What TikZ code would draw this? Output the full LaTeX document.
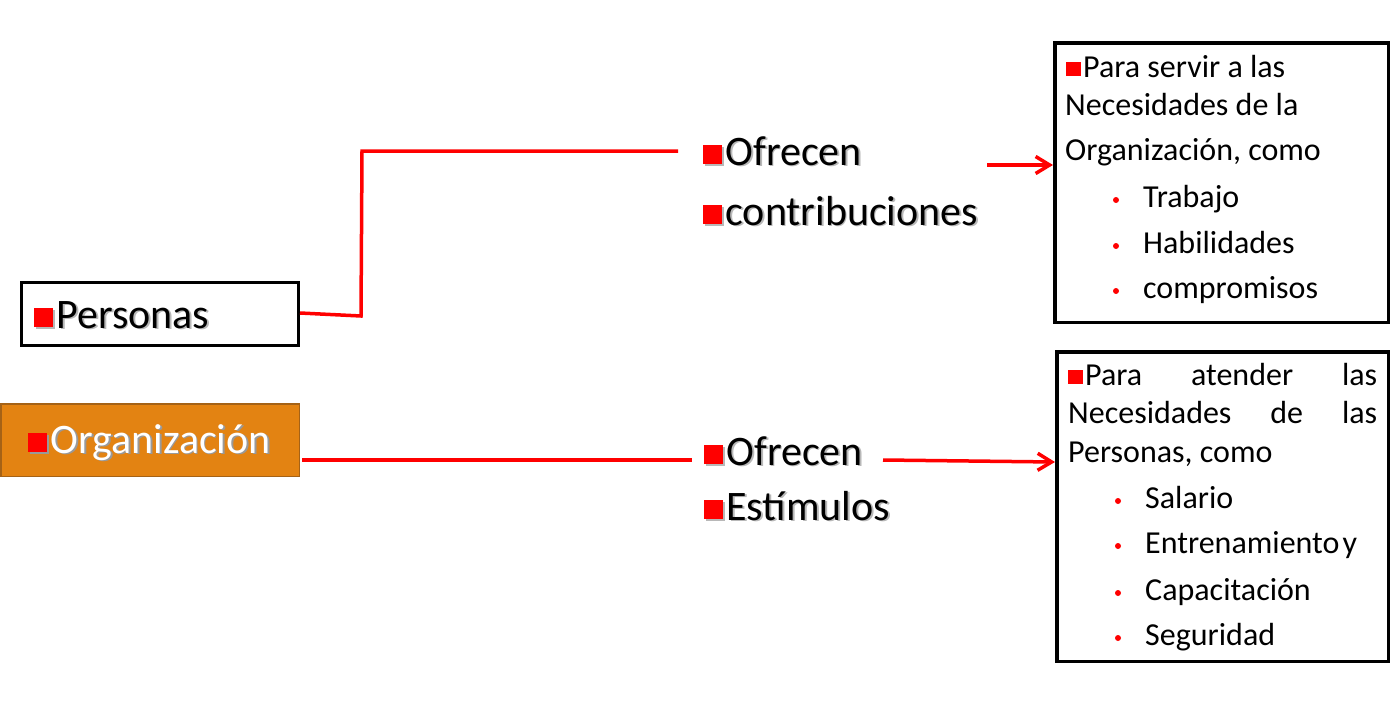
\documentclass[tikz,border=0pt]{standalone}
\usepackage{fontspec}
\setmainfont{Carlito}
\usetikzlibrary{arrows.meta}
\definecolor{orgfill}{RGB}{227,131,18}
\definecolor{orgdraw}{RGB}{165,98,22}
\colorlet{sqcol}{red}
\newcommand\sq{\textcolor{sqcol}{\rule[0.03em]{0.45em}{0.45em}}\hspace{0.08em}}
\newcommand\shd[2]{\makebox[0pt][l]{\hspace{1.8pt}\raisebox{-1.8pt}{\colorlet{sqcol}{#1}\color{#1}#2}}#2}
\begin{document}
\begin{tikzpicture}[x=1pt,y=-1pt,
  bigtext/.style={inner sep=0pt,anchor=base west,font=\fontsize{42}{50}\selectfont},
  boxtext/.style={inner sep=0pt,anchor=base west,font=\fontsize{32}{38}\selectfont},
  frame/.style={draw=black,line width=3.5pt,fill=white,inner sep=0pt,anchor=north west},
  link/.style={draw=red,line width=3.5pt},
  arrowlink/.style={link,-{Straight Barb[length=14pt,width=17pt,line width=3.5pt]}},
  itemdot/.style={fill=red}]
\useasboundingbox (0,0) rectangle (1398,704);
% left boxes
\node[frame,line width=3pt,minimum width=277pt,minimum height=63pt] (pbox) at (20,281) {};
\node[draw=orgdraw,fill=orgfill,line width=1.5pt,inner sep=0pt,anchor=north west,
      minimum width=298.5pt,minimum height=72.5pt] (obox) at (0,403) {};
\node[bigtext] (ptext) at (34,328) {\shd{black!28}{\sq Personas}};
\node[bigtext,text=white] (otext) at (28,453) {\shd{black!40}{\sq Organización}};
% middle texts
\node[bigtext] (of1) at (703,165) {\shd{black!28}{\sq Ofrecen}};
\node[bigtext] (con) at (703,225) {\shd{black!28}{\sq contribuciones}};
\node[bigtext] (of2) at (704,465) {\shd{black!28}{\sq Ofrecen}};
\node[bigtext] (est) at (704,520) {\shd{black!28}{\sq Estímulos}};
% right boxes
\node[frame,minimum width=333.5pt,minimum height=279.5pt] (b1) at (1053,41) {};
\node[frame,minimum width=331.5pt,minimum height=309.5pt] (b2) at (1055,350) {};
% top box text
\node[boxtext] (t1) at (1066,77) {\sq Para servir a las};
\node[boxtext] (t2) at (1065,115) {Necesidades de la};
\node[boxtext] (t3) at (1065,160) {Organización, como};
\node[boxtext] (t4) at (1143,207) {Trabajo};
\node[boxtext] (t5) at (1143,253) {Habilidades};
\node[boxtext] (t6) at (1143,298) {compromisos};
\fill[itemdot] (1116,200) circle (3);
\fill[itemdot] (1116,246) circle (3);
\fill[itemdot] (1116,291) circle (3);
% bottom box text
\node[boxtext] (u1) at (1068,385) {\hbox to 309pt{\sq Para\hfill atender\hfill las}};
\node[boxtext] (u2) at (1068,423) {\hbox to 309pt{Necesidades\hfill de\hfill las}};
\node[boxtext] (u3) at (1068,462) {Personas, como};
\node[boxtext] (u4) at (1145,508) {Salario};
\node[boxtext] (u5) at (1145,553) {Entrenamiento\kern0.1em y};
\node[boxtext] (u6) at (1145,600) {Capacitación};
\node[boxtext] (u7) at (1145,645) {Seguridad};
\fill[itemdot] (1118,501) circle (3);
\fill[itemdot] (1118,546) circle (3);
\fill[itemdot] (1118,593) circle (3);
\fill[itemdot] (1118,638) circle (3);
% connectors
\coordinate (k1) at (361,316);
\coordinate (k2) at (362,151);
\coordinate (e1) at (678,151);
\coordinate (e2) at (692,460);
\coordinate (a1) at (987,165);
\coordinate (a2) at (883,460);
\draw[link] (pbox.east |- 0,313) -- (k1) -- (k2) -- (e1);
\draw[link] (302,460) -- (e2);
\draw[arrowlink] (a1) -- (a1 -| b1.west);
\draw[arrowlink] (a2) -- (b2.west |- 0,462);
\end{tikzpicture}
\end{document}
